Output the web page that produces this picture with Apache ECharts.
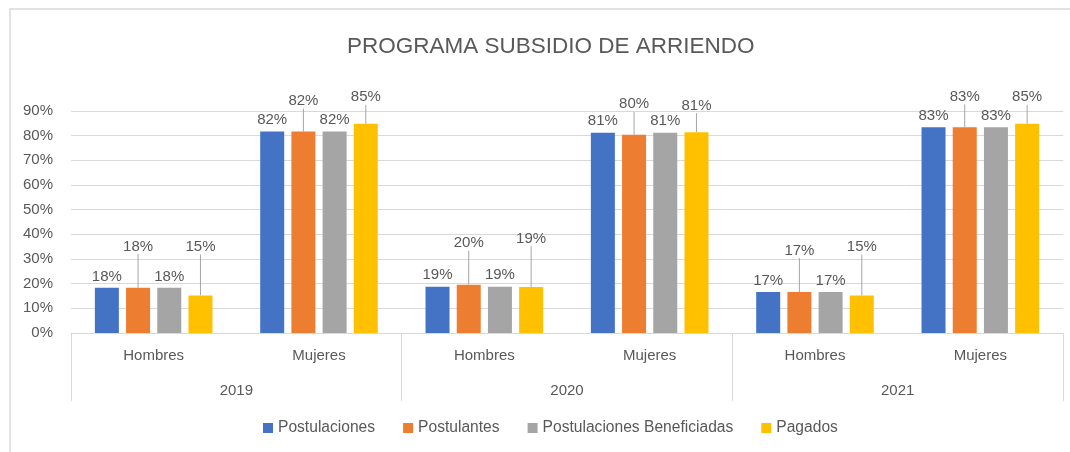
<!DOCTYPE html>
<html>
<head>
<meta charset="utf-8">
<script src="https://cdn.jsdelivr.net/npm/echarts@6/dist/echarts.min.js"></script>
<style>
    html, body { margin: 0; padding: 0; background: #fff; }
    #myChart { width: 1070px; height: 452px; }
</style>
</head>
<body>
<div id="myChart"></div>
<script>
    // data (share of total per year)
    var years = ['2019', '2020', '2021'];
    var genders = ['Hombres', 'Mujeres'];
    var seriesNames = ['Postulaciones', 'Postulantes', 'Postulaciones Beneficiadas', 'Pagados'];

    // order: 2019 H, 2019 M, 2020 H, 2020 M, 2021 H, 2021 M
    var postulaciones = [0.183, 0.817, 0.188, 0.812, 0.166, 0.834];
    var postulantes = [0.183, 0.817, 0.196, 0.804, 0.166, 0.834];
    var beneficiadas = [0.183, 0.817, 0.188, 0.812, 0.166, 0.834];
    var pagados = [0.152, 0.848, 0.186, 0.814, 0.152, 0.848];

    var yTicks = [0, 0.1, 0.2, 0.3, 0.4, 0.5, 0.6, 0.7, 0.8, 0.9];

    var colors = ['#4472C4', '#ED7D31', '#A5A5A5', '#FFC000'];
    var font = 'Liberation Sans';
    var textColor = '#595959';

    // category list for the inner axis: every gender once per year
    var innerCats = [];
    years.forEach(function () {
        genders.forEach(function (g) { innerCats.push(g); });
    });

    function pct(v) {
        return Math.round(v * 100) + '%';
    }

    // Excel pushes some labels up and adds a leader line
    var raise = {
        1: [-30, -19],
        3: [-37, -15]
    };

    function makeSeries(name, values, idx) {
        var s = {
            name: name,
            type: 'bar',
            xAxisIndex: 0,
            data: values,
            barWidth: 24,
            barGap: '30%',
            itemStyle: {color: colors[idx]},
            label: {
                show: true,
                position: 'top',
                distance: 4,
                formatter: function (p) { return pct(p.value); },
                color: textColor,
                fontSize: 15,
                fontFamily: font
            }
        };
        if (raise[idx]) {
            s.labelLayout = function (p) {
                return {dy: raise[idx][p.dataIndex % 2]};
            };
            s.labelLine = {show: true, lineStyle: {color: '#a6a6a6', width: 1}};
        }
        return s;
    }

    var myChart = echarts.init(document.getElementById('myChart'));

    var option = {
        animation: false,
        color: colors,
        textStyle: {fontFamily: font},
        title: {
            text: 'PROGRAMA SUBSIDIO DE ARRIENDO',
            left: 342,
            top: 30,
            textStyle: {fontSize: 22.5, fontWeight: 'normal', color: textColor, fontFamily: font}
        },
        legend: {
            bottom: 11,
            left: 258,
            itemWidth: 10,
            itemHeight: 10,
            itemGap: 28,
            icon: 'rect',
            data: seriesNames,
            textStyle: {fontSize: 15.6, color: textColor, fontFamily: font}
        },
        graphic: [{
            type: 'rect',
            shape: {x: 10, y: 9, width: 1100, height: 500},
            style: {fill: 'none', stroke: '#d9d9d9', lineWidth: 1.5},
            silent: true
        }],
        grid: {left: 71, right: 7, top: 111, bottom: 119},
        xAxis: [{
            type: 'category',
            data: innerCats,
            axisLine: {lineStyle: {color: '#d9d9d9'}},
            axisTick: {show: false},
            axisLabel: {margin: 15, fontSize: 15, color: textColor, fontFamily: font}
        }, {
            type: 'category',
            data: years,
            position: 'bottom',
            axisLine: {show: false},
            axisTick: {show: true, length: 68, lineStyle: {color: '#d9d9d9'}},
            axisLabel: {margin: 50, fontSize: 15, color: textColor, fontFamily: font}
        }],
        yAxis: {
            type: 'value',
            min: yTicks[0],
            max: yTicks[yTicks.length - 1],
            interval: 0.1,
            axisLine: {show: false},
            axisTick: {show: false},
            splitLine: {lineStyle: {color: '#d9d9d9'}},
            axisLabel: {
                margin: 18,
                fontSize: 15,
                color: textColor,
                fontFamily: font,
                formatter: function (v) { return pct(v); }
            }
        },
        series: [
            makeSeries(seriesNames[0], postulaciones, 0),
            makeSeries(seriesNames[1], postulantes, 1),
            makeSeries(seriesNames[2], beneficiadas, 2),
            makeSeries(seriesNames[3], pagados, 3)
        ]
    };

    myChart.setOption(option);
</script>
</body>
</html>
